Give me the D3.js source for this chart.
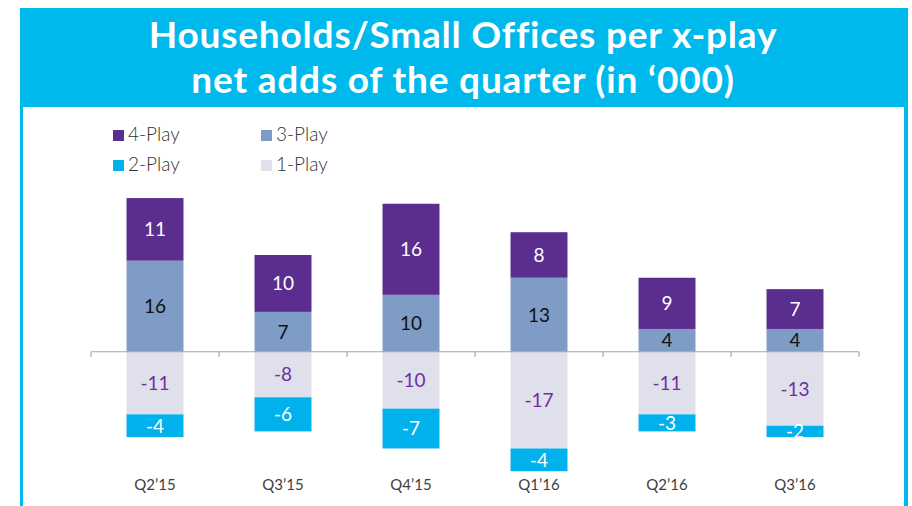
<!DOCTYPE html>
<html>
<head>
<meta charset="utf-8">
<script src="https://cdn.jsdelivr.net/npm/d3@7"></script>
<style>
  body { margin: 0; background: #fff; overflow: hidden; }
  text { font-family: Lato, "Open Sans", sans-serif; }
</style>
</head>
<body>
<script>
// data
var quarters = ["Q2\u201915", "Q3\u201915", "Q4\u201915", "Q1\u201916", "Q2\u201916", "Q3\u201916"];
var play4 = [11, 10, 16, 8, 9, 7];
var play3 = [16, 7, 10, 13, 4, 4];
var play1 = [-11, -8, -10, -17, -11, -13];
var play2 = [-4, -6, -7, -4, -3, -2];

var seriesNames = ["4-Play", "3-Play", "2-Play", "1-Play"];
var colors = { "4-Play": "#5b2d8e", "3-Play": "#7f9cc7", "2-Play": "#00b1eb", "1-Play": "#e0dfec" };
var labelColors = { "4-Play": "#fff", "3-Play": "#111", "2-Play": "#fff", "1-Play": "#7030a0" };

var W = 912, H = 506;

var svg = d3.select("body").append("svg")
    .attr("width", W)
    .attr("height", H);

// cyan header band + side borders
svg.append("rect").attr("x", 20).attr("y", 8).attr("width", 888).attr("height", 99).attr("fill", "#00b9ec");
svg.append("rect").attr("x", 20).attr("y", 100).attr("width", 3).attr("height", H - 100).attr("fill", "#00b9ec");
svg.append("rect").attr("x", 904).attr("y", 100).attr("width", 4).attr("height", H - 100).attr("fill", "#00b9ec");

// title, two separate lines
svg.selectAll("text.title").data(["Households/Small Offices per x-play", "net adds of the quarter (in \u2018000)"])
  .enter().append("text")
    .attr("class", "title")
    .attr("x", 463)
    .attr("y", function(d, i) { return 48 + i * 45; })
    .attr("text-anchor", "middle")
    .attr("fill", "#fff")
    .attr("font-weight", "bold")
    .attr("font-size", 37)
    .attr("letter-spacing", 0.8)
    .text(function(d) { return d; });

// scales
var x = d3.scaleBand().domain(quarters).range([91, 859]).paddingInner(0.555).paddingOuter(0.2775);
var y = d3.scaleLinear().domain([-25, 30]).range([494, 181]);

// build stacked segments
var segs = [];
quarters.forEach(function(q, i) {
  segs.push({ q: q, s: "3-Play", v: play3[i], y0: 0, y1: play3[i] });
  segs.push({ q: q, s: "4-Play", v: play4[i], y0: play3[i], y1: play3[i] + play4[i] });
  segs.push({ q: q, s: "1-Play", v: play1[i], y0: 0, y1: play1[i] });
  segs.push({ q: q, s: "2-Play", v: play2[i], y0: play1[i], y1: play1[i] + play2[i] });
});

svg.selectAll("rect.seg").data(segs).enter().append("rect")
    .attr("class", "seg")
    .attr("x", function(d) { return x(d.q); })
    .attr("width", x.bandwidth())
    .attr("y", function(d) { return y(Math.max(d.y0, d.y1)); })
    .attr("height", function(d) { return Math.abs(y(d.y0) - y(d.y1)); })
    .attr("fill", function(d) { return colors[d.s]; });

svg.selectAll("text.lbl").data(segs).enter().append("text")
    .attr("class", "lbl")
    .attr("x", function(d) { return x(d.q) + x.bandwidth() / 2; })
    .attr("y", function(d) { return y((d.y0 + d.y1) / 2); })
    .attr("dy", "0.36em")
    .attr("text-anchor", "middle")
    .attr("font-size", 19)
    .attr("fill", function(d) { return labelColors[d.s]; })
    .text(function(d) { return d.v; });

// zero axis with ticks between categories
var g = svg.append("g").attr("transform", "translate(0," + y(0) + ")");
g.append("line").attr("x1", 91).attr("x2", 859).attr("stroke", "#a6a6a6").attr("stroke-width", 1.2);
var step = x.step();
d3.range(quarters.length + 1).forEach(function(i) {
  var tx = 91 + i * step;
  g.append("line").attr("x1", tx).attr("x2", tx).attr("y1", 0).attr("y2", 5)
      .attr("stroke", "#a6a6a6").attr("stroke-width", 1.2);
});

// category labels
svg.selectAll("text.cat").data(quarters).enter().append("text")
    .attr("class", "cat")
    .attr("x", function(d) { return x(d) + x.bandwidth() / 2; })
    .attr("y", 490)
    .attr("text-anchor", "middle")
    .attr("font-size", 15)
    .attr("fill", "#404040")
    .text(function(d) { return d; });

// legend
var legendPos = { "4-Play": [113, 130], "3-Play": [261, 130], "2-Play": [113, 160], "1-Play": [261, 160] };
var lg = svg.selectAll("g.lg").data(seriesNames).enter().append("g")
    .attr("class", "lg")
    .attr("transform", function(d) { return "translate(" + legendPos[d][0] + "," + legendPos[d][1] + ")"; });
lg.append("rect").attr("width", 11).attr("height", 11).attr("fill", function(d) { return colors[d]; });
lg.append("text").attr("x", 15).attr("y", 11).attr("font-size", 19).attr("font-weight", 300)
    .attr("fill", "#333").text(function(d) { return d; });
</script>
</body>
</html>
